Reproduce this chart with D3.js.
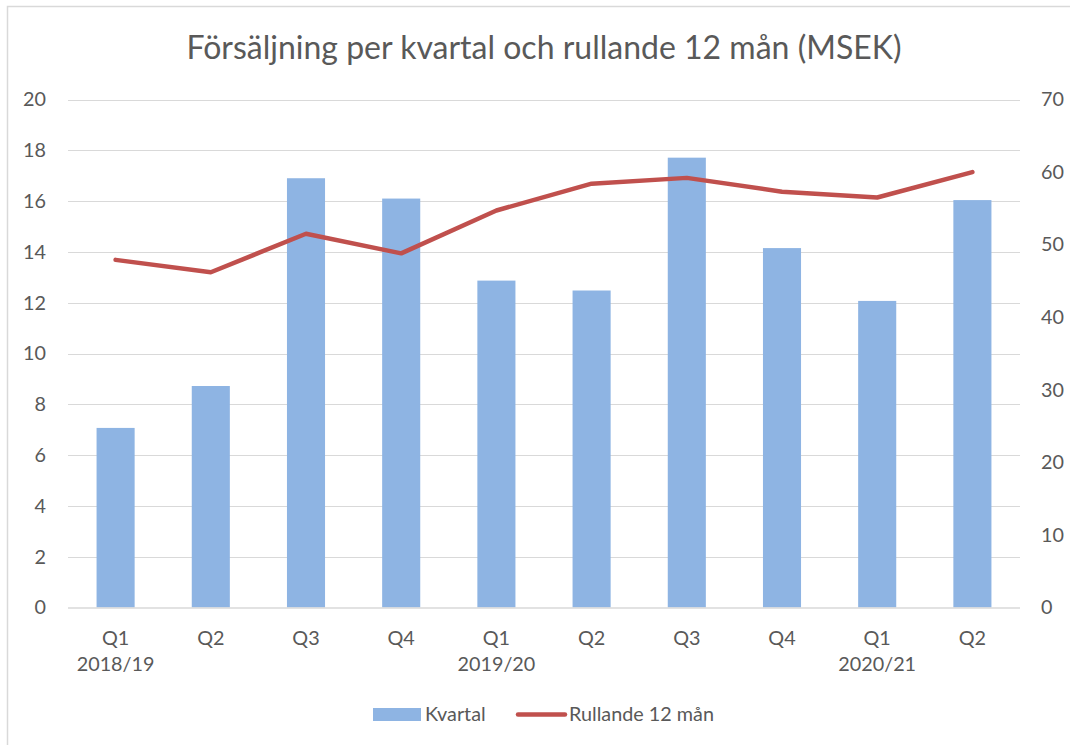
<!DOCTYPE html>
<html><head><meta charset="utf-8">
<script src="https://cdn.jsdelivr.net/npm/d3@7"></script>
<style>body{margin:0;background:#fff}svg{display:block}text{font-family:Lato,"Open Sans",sans-serif;fill:#595959}</style>
</head><body><svg id="c" width="1070" height="745"></svg>
<script>
const quarters = ["Q1","Q2","Q3","Q4","Q1","Q2","Q3","Q4","Q1","Q2"];
const years = ["2018/19","","","","2019/20","","","","2020/21",""];
const kvartal = [7.07,8.72,16.9,16.1,12.87,12.48,17.71,14.15,12.07,16.04];
const rullande = [47.9,46.2,51.5,48.8,54.7,58.4,59.2,57.3,56.5,60.0];
const leftTicks = [0,2,4,6,8,10,12,14,16,18,20];
const rightTicks = [0,10,20,30,40,50,60,70];

const svg = d3.select("#c");
const L=68, R=1020, T=99.5, B=607.5;
const FS = "19.8px";
svg.append("rect").attr("x",7.5).attr("y",6.5).attr("width",1080).attr("height",760)
  .attr("fill","#fff").attr("stroke","#d9d9d9").attr("stroke-width",1.5);

svg.append("text").attr("x",544).attr("y",59).attr("text-anchor","middle")
  .style("font-size","32px").text("Försäljning per kvartal och rullande 12 mån (MSEK)");

const idx = d3.range(quarters.length);
const x = d3.scaleBand().domain(idx).range([L,R]).paddingInner(0.6).paddingOuter(0.3);
const yL = d3.scaleLinear().domain([0,20]).range([B,T]);
const yR = d3.scaleLinear().domain([0,70]).range([B,T]);

// gridlines
svg.append("g").selectAll("line").data(leftTicks.filter(d=>d>0)).join("line")
  .attr("x1",L).attr("x2",R).attr("y1",d=>Math.round(yL(d))+0.5).attr("y2",d=>Math.round(yL(d))+0.5)
  .attr("stroke","#d9d9d9").attr("stroke-width",1.2);

// left axis
const ga = svg.append("g").attr("transform",`translate(${L},0)`)
  .call(d3.axisLeft(yL).tickValues(leftTicks).tickSize(0).tickPadding(22));
ga.select(".domain").remove();
ga.selectAll("text").style("font-size",FS).attr("fill","#595959").style("font-family","Lato,sans-serif");

const gr = svg.append("g").attr("transform",`translate(${R},0)`)
  .call(d3.axisRight(yR).tickValues(rightTicks).tickSize(0).tickPadding(21));
gr.select(".domain").remove();
gr.selectAll("text").style("font-size",FS).attr("fill","#595959").style("font-family","Lato,sans-serif");

// bars
svg.append("g").selectAll("rect").data(kvartal).join("rect")
  .attr("x",(d,i)=>x(i)).attr("width",x.bandwidth())
  .attr("y",d=>yL(d)).attr("height",d=>B-yL(d))
  .attr("fill","#8EB4E3");

// baseline
svg.append("line").attr("x1",L).attr("x2",R).attr("y1",B+0.5).attr("y2",B+0.5)
  .attr("stroke","#d9d9d9").attr("stroke-width",1.5);

// line
const line = d3.line().x((d,i)=>x(i)+x.bandwidth()/2).y(d=>yR(d));
svg.append("path").datum(rullande).attr("d",line).attr("fill","none")
  .attr("stroke","#C0504D").attr("stroke-width",4.5).attr("stroke-linecap","round").attr("stroke-linejoin","round");

// x labels
const xl = svg.append("g");
xl.selectAll("text.q").data(quarters).join("text").attr("class","q")
  .attr("x",(d,i)=>x(i)+x.bandwidth()/2).attr("y",645).attr("text-anchor","middle")
  .style("font-size",FS).text(d=>d);
xl.selectAll("text.y").data(years).join("text").attr("class","y")
  .attr("x",(d,i)=>x(i)+x.bandwidth()/2).attr("y",671).attr("text-anchor","middle")
  .style("font-size",FS).text(d=>d);

// legend
const lg = svg.append("g");
lg.append("rect").attr("x",373).attr("y",708).attr("width",48).attr("height",13).attr("fill","#8EB4E3");
lg.append("text").attr("x",425).attr("y",721).style("font-size",FS).text("Kvartal");
lg.append("line").attr("x1",518).attr("x2",565).attr("y1",714.5).attr("y2",714.5)
  .attr("stroke","#C0504D").attr("stroke-width",4.5).attr("stroke-linecap","round");
lg.append("text").attr("x",569).attr("y",721).style("font-size",FS).text("Rullande 12 mån");
</script></body></html>
